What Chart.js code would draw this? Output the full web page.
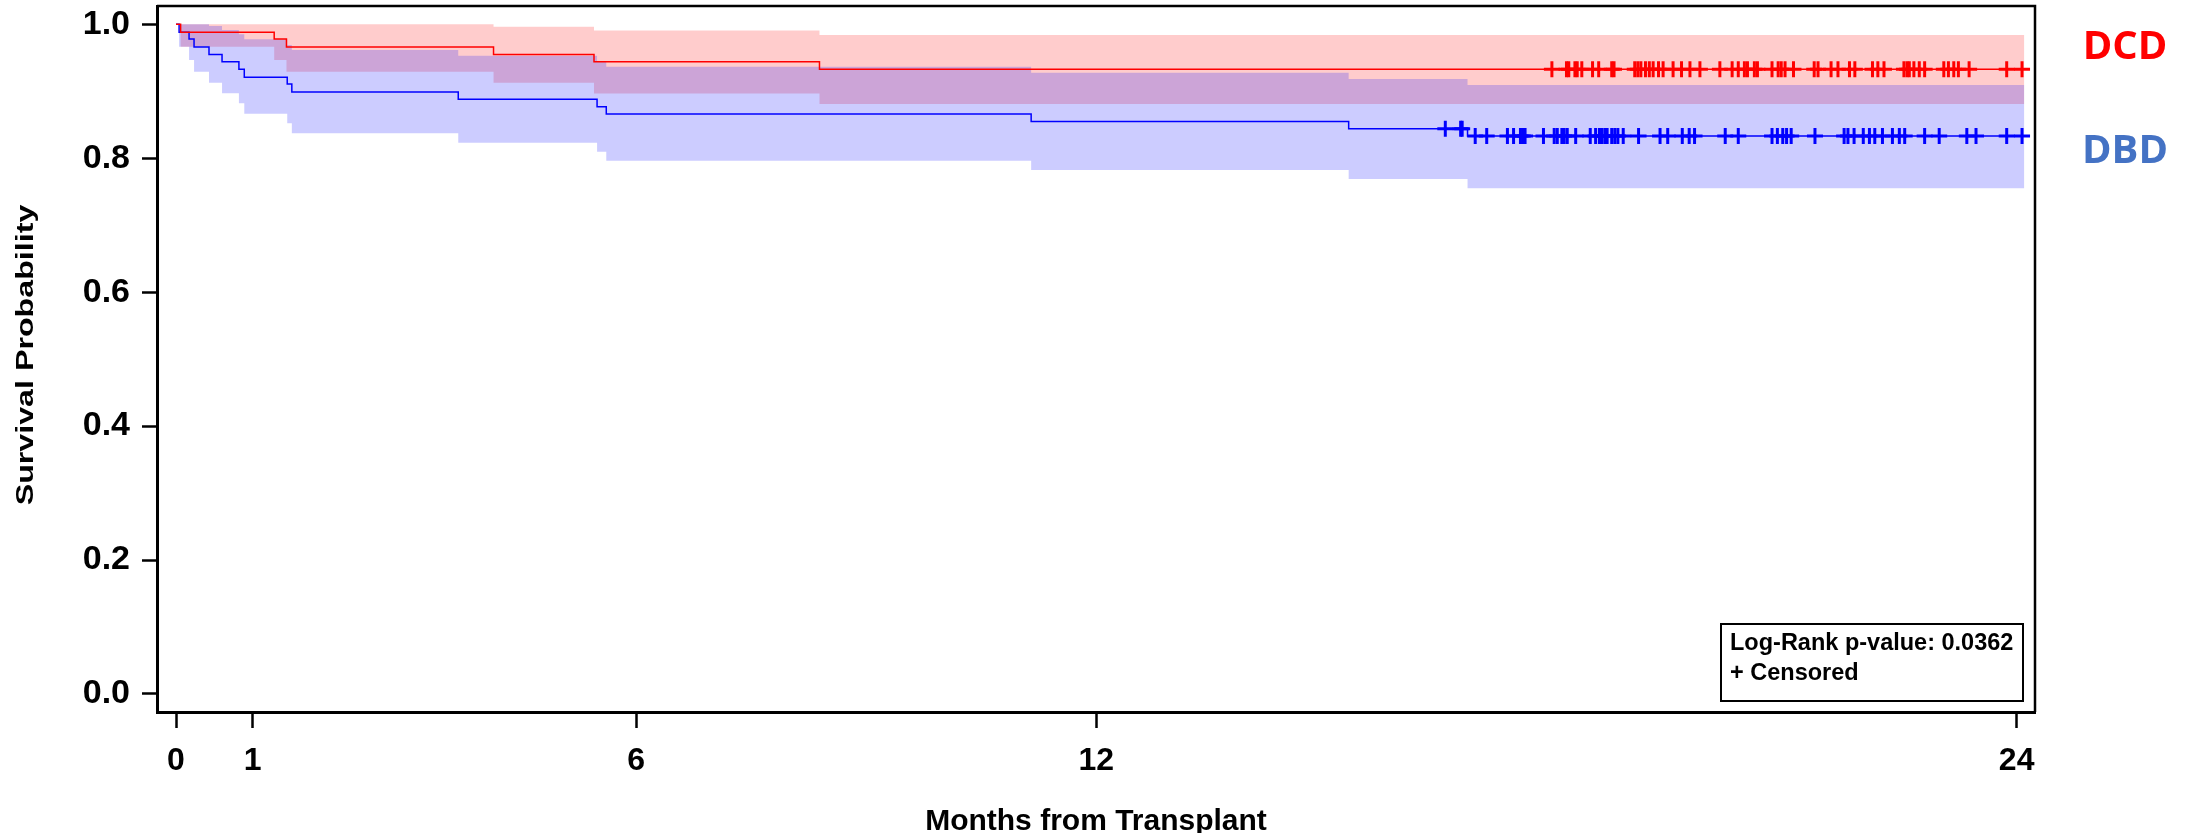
<!DOCTYPE html>
<html>
<head>
<meta charset="utf-8">
<title>Survival by donor type</title>
<script src="https://cdn.jsdelivr.net/npm/chart.js@4.4.1/dist/chart.umd.min.js"></script>
<style>
  html, body { margin: 0; padding: 0; background: #ffffff; }
  #wrap { width: 2190px; height: 833px; position: relative; }
</style>
</head>
<body>
<div id="wrap"><canvas id="km" width="2190" height="833"></canvas></div>
<script>
// Kaplan–Meier survival after transplant, DCD vs DBD donors (time in months)
const dcdTimes = [0, 0.06, 1.28, 1.44, 4.14, 5.45, 8.39, 24.1];
const dcdSurv  = [1, 0.988, 0.978, 0.966, 0.955, 0.944, 0.933, 0.933];
const dcdUpper = [1, 1, 1, 1, 0.9964, 0.9907, 0.984, 0.984];
const dcdLower = [1, 0.9666, 0.9467, 0.9292, 0.9128, 0.8967, 0.881, 0.881];
const dcdCensored = [17.94, 18.13, 18.16, 18.24, 18.27, 18.33, 18.47, 18.55, 18.72, 18.75,
  19.02, 19.06, 19.10, 19.16, 19.21, 19.26, 19.33, 19.39, 19.52, 19.63, 19.74, 19.87,
  20.13, 20.29, 20.37, 20.45, 20.49, 20.58, 20.62, 20.81, 20.89, 20.93, 20.98, 21.09,
  21.36, 21.41, 21.58, 21.67, 21.82, 21.89, 22.12, 22.19, 22.27, 22.53, 22.57, 22.60,
  22.66, 22.73, 22.80, 23.05, 23.11, 23.18, 23.24, 23.38, 23.87, 24.07];

const dbdTimes = [0, 0.04, 0.17, 0.235, 0.43, 0.60, 0.82, 0.89, 1.45, 1.51, 3.68, 5.49, 5.61, 11.15, 15.29, 16.84, 24.1];
const dbdSurv  = [1, 0.988, 0.978, 0.966, 0.955, 0.944, 0.933, 0.921, 0.911, 0.899, 0.888, 0.877, 0.866, 0.855, 0.844, 0.833, 0.833];
const dbdUpper = [1, 1, 1, 1, 0.9975, 0.9915, 0.985, 0.9776, 0.9691, 0.9616, 0.9531, 0.9442, 0.9367, 0.9277, 0.9183, 0.9094, 0.9094];
const dbdLower = [1, 0.9666, 0.9467, 0.9292, 0.9128, 0.897, 0.882, 0.8665, 0.8522, 0.8372, 0.8232, 0.8098, 0.7963, 0.7824, 0.769, 0.7551, 0.7551];
const dbdCensored = [16.55, 16.75, 16.77, 16.94, 17.09, 17.36, 17.44, 17.53, 17.56, 17.59,
  17.83, 17.97, 18.01, 18.07, 18.10, 18.14, 18.25, 18.44, 18.51, 18.56, 18.59, 18.63,
  18.66, 18.72, 18.76, 18.80, 18.87, 19.07, 19.35, 19.45, 19.64, 19.73, 19.80, 20.20,
  20.37, 20.81, 20.88, 20.95, 21.00, 21.06, 21.37, 21.75, 21.80, 21.88, 22.00, 22.08,
  22.15, 22.25, 22.38, 22.47, 22.54, 22.80, 22.99, 23.35, 23.47, 23.87, 24.07];

const xTickValues = [0, 1, 6, 12, 24];
const yTickValues = [0, 0.2, 0.4, 0.6, 0.8, 1.0];
const groupNames = ['DCD', 'DBD'];
const pValueText = 'Log-Rank p-value: 0.0362';
const censorNote = '+ Censored';
const xTitle = 'Months from Transplant';
const yTitle = 'Survival Probability';

const FONT = '"Liberation Sans", Arial, sans-serif';

function toPoints(times, values) {
  return times.map((t, i) => ({ x: t, y: values[i] }));
}
// value of a step function at time t
function stepValue(times, values, t) {
  let v = values[0];
  for (let i = 0; i < times.length; i++) {
    if (times[i] <= t) v = values[i];
  }
  return v;
}
function censorPoints(cTimes, times, values) {
  return cTimes.map(t => ({ x: t, y: stepValue(times, values, t) }));
}

const bandStyle = { borderWidth: 0, pointRadius: 0, stepped: 'before' };

const datasets = [
  // 0, 1: censor marks (drawn on top)
  { data: censorPoints(dcdCensored, dcdTimes, dcdSurv), showLine: false,
    pointStyle: 'cross', pointRadius: 8, pointBorderWidth: 3,
    borderColor: 'rgb(255,0,0)', pointBorderColor: 'rgb(255,0,0)', order: 0 },
  { data: censorPoints(dbdCensored, dbdTimes, dbdSurv), showLine: false,
    pointStyle: 'cross', pointRadius: 8, pointBorderWidth: 3,
    borderColor: 'rgb(0,0,255)', pointBorderColor: 'rgb(0,0,255)', order: 1 },
  // 2, 3: survival step curves
  { data: toPoints(dcdTimes, dcdSurv), stepped: 'before', borderColor: 'rgb(255,0,0)',
    borderWidth: 1.5, pointRadius: 0, fill: false, order: 2 },
  { data: toPoints(dbdTimes, dbdSurv), stepped: 'before', borderColor: 'rgb(0,0,255)',
    borderWidth: 1.5, pointRadius: 0, fill: false, order: 3 },
  // 4, 5: DBD confidence band
  { ...bandStyle, data: toPoints(dbdTimes, dbdUpper), fill: { target: 5 },
    backgroundColor: 'rgba(0,0,255,0.2)', order: 4 },
  { ...bandStyle, data: toPoints(dbdTimes, dbdLower), fill: false, order: 5 },
  // 6, 7: DCD confidence band
  { ...bandStyle, data: toPoints(dcdTimes, dcdUpper), fill: { target: 7 },
    backgroundColor: 'rgba(255,0,0,0.2)', order: 6 },
  { ...bandStyle, data: toPoints(dcdTimes, dcdLower), fill: false, order: 7 }
];

// frame, p-value box, group labels and vertical axis title
const decorations = {
  id: 'kmDecorations',
  afterDraw(chart) {
    const { ctx, chartArea: a } = chart;
    ctx.save();
    ctx.strokeStyle = '#000';
    ctx.lineWidth = 2.5;
    ctx.beginPath();
    ctx.moveTo(a.left, a.top);
    ctx.lineTo(a.right, a.top);
    ctx.lineTo(a.right, a.bottom);
    ctx.stroke();

    const bw = 302, bh = 77;
    const bx = a.right - 12 - bw, by = a.bottom - 11 - bh;
    ctx.lineWidth = 2;
    ctx.strokeRect(bx, by, bw, bh);
    ctx.fillStyle = '#000';
    ctx.font = 'bold 23.5px ' + FONT;
    ctx.textAlign = 'left';
    ctx.textBaseline = 'middle';
    ctx.fillText(pValueText, bx + 9, by + 20);
    ctx.fillText(censorNote, bx + 9, by + 50);

    ctx.font = 'bold 40px "Open Sans", "Noto Sans", sans-serif';
    ctx.textAlign = 'center';
    ctx.fillStyle = '#ff0000';
    ctx.fillText(groupNames[0], a.right + 90, a.top + 42);
    ctx.fillStyle = '#4472c4';
    ctx.fillText(groupNames[1], a.right + 90, a.top + 146);

    ctx.translate(26.5, (a.top + a.bottom) / 2 - 4);
    ctx.rotate(-Math.PI / 2);
    ctx.scale(1.4, 1);
    ctx.fillStyle = '#000';
    ctx.font = 'bold 23px ' + FONT;
    ctx.textAlign = 'center';
    ctx.fillText(yTitle, 0, 0);
    ctx.restore();
  }
};

new Chart(document.getElementById('km'), {
  type: 'line',
  data: { datasets },
  plugins: [decorations],
  options: {
    responsive: false,
    animation: false,
    devicePixelRatio: 1,
    layout: { autoPadding: false, padding: { top: 6, right: 155, left: 0, bottom: 0 } },
    plugins: {
      legend: { display: false },
      tooltip: { enabled: false },
      filler: { drawTime: 'beforeDatasetsDraw' }
    },
    scales: {
      x: {
        type: 'linear',
        min: -0.248,
        max: 24.239,
        afterBuildTicks: s => { s.ticks = xTickValues.map(v => ({ value: v })); },
        afterFit: s => { s.height = 121; s.paddingLeft = 0; s.paddingRight = 0; },
        grid: { drawOnChartArea: false, drawTicks: true, tickLength: 16, tickWidth: 2.5, tickColor: '#000' },
        border: { display: true, color: '#000', width: 3 },
        ticks: { color: '#000', padding: 14, font: { family: FONT, size: 32, weight: 'bold' },
          maxRotation: 0, autoSkip: false, callback: v => String(v) },
        title: { display: true, text: xTitle, color: '#000',
          font: { family: FONT, size: 30, weight: 'bold', lineHeight: 0.5 },
          padding: { top: 0, bottom: 3.8 } }
      },
      y: {
        type: 'linear',
        min: -0.0269,
        max: 1.0273,
        afterBuildTicks: s => { s.ticks = yTickValues.map(v => ({ value: v })); },
        afterFit: s => { s.width = 157; s.paddingTop = 0; s.paddingBottom = 0; },
        grid: { drawOnChartArea: false, drawTicks: true, tickLength: 15, tickWidth: 2.5, tickColor: '#000' },
        border: { display: true, color: '#000', width: 3 },
        ticks: { color: '#000', padding: 12, font: { family: FONT, size: 34, weight: 'bold' },
          callback: v => Number(v).toFixed(1) }
      }
    }
  }
});
</script>
</body>
</html>
